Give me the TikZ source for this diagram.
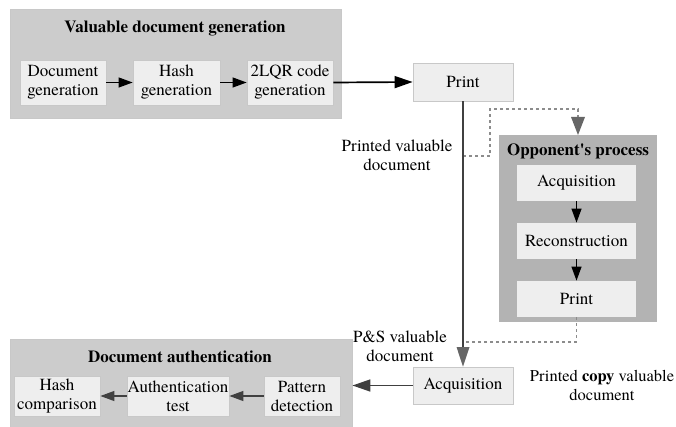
\documentclass[tikz,border=0pt]{standalone}
\usepackage{fontspec}
\setmainfont{texgyretermes}[Extension=.otf, UprightFont=*-regular, BoldFont=*-bold, ItalicFont=*-italic, BoldItalicFont=*-bolditalic]
\usetikzlibrary{arrows.meta,positioning}
\definecolor{clus}{HTML}{CCCCCC}
\definecolor{clusd}{HTML}{B3B3B3}
\definecolor{boxf}{HTML}{EEEEEE}
\definecolor{boxb}{HTML}{C8C8C8}
\definecolor{darkl}{HTML}{404040}
\definecolor{dotc}{HTML}{8C8C8C}
\definecolor{headc}{HTML}{666666}
\begin{document}
\begin{tikzpicture}[x=1pt,y=-1pt,
  txt/.style={font=\fontsize{17}{19}\selectfont, align=center, inner sep=0pt},
  ttl/.style={font=\fontsize{17}{19}\selectfont\bfseries, inner sep=0pt},
  stepbox/.style={txt, draw=boxb, fill=boxf, line width=0.8pt},
  arr/.style={-{Triangle[length=18pt,width=12pt]}, line width=1.7pt, black},
  sarr/.style={-{Triangle[length=14pt,width=10pt]}, line width=1.2pt, darkl},
  dotl/.style={dotc, line width=1.4pt, dash pattern=on 3pt off 3pt},
]
\useasboundingbox (0,0) rectangle (676,427);
% clusters
\node[draw=boxb, fill=clus, minimum width=331pt, minimum height=109pt, inner sep=0pt] (gen) at (175.5,63.5) {};
\node[ttl] (gent) at (175,28) {Valuable document generation};
\node[fill=clusd, minimum width=158pt, minimum height=187pt, inner sep=0pt] (opp) at (578,228.5) {};
\node[ttl] (oppt) at (578,151) {Opponent\textquotesingle s process};
\node[draw=boxb, fill=clus, minimum width=342pt, minimum height=92pt, inner sep=0pt, anchor=north west] (auth) at (10,339) {};
\node[ttl] (autht) at (180,357) {Document authentication};
% boxes
\node[stepbox, minimum width=86pt, minimum height=45pt] (docgen) at (63,82.5) {Document\\generation};
\node[stepbox, minimum width=87pt, minimum height=45pt] (hashgen) at (176.5,82.5) {Hash\\generation};
\node[stepbox, minimum width=86pt, minimum height=45pt] (qrgen) at (290,82.5) {2LQR code\\generation};
\node[stepbox, minimum width=100pt, minimum height=38pt] (print1) at (463,82) {Print};
\node[stepbox, minimum width=100pt, minimum height=37pt] (acq1) at (463,385.5) {Acquisition};
\node[stepbox, draw=none, minimum width=119pt, minimum height=36pt] (oacq) at (576.5,183) {Acquisition};
\node[stepbox, draw=none, minimum width=119pt, minimum height=36pt] (orec) at (576.5,241) {Reconstruction};
\node[stepbox, draw=none, minimum width=119pt, minimum height=36pt] (oprint) at (576.5,299) {Print};
\node[stepbox, minimum width=86pt, minimum height=40pt] (hashcmp) at (57,396) {Hash\\comparison};
\node[stepbox, minimum width=102pt, minimum height=40pt] (authtest) at (178,396) {Authentication\\test};
\node[stepbox, minimum width=76pt, minimum height=40pt] (pattern) at (302,396) {Pattern\\detection};
% labels
\node[txt] (l1) at (397,155.5) {Printed valuable\\document};
\node[txt] (l2) at (400,346) {P\&S valuable\\document};
\node[txt, font=\fontsize{16.5}{19}\selectfont] (l3) at (602,385) {Printed \textbf{copy} valuable\\document};
% connectors
\draw[sarr, black] (docgen) -- (hashgen);
\draw[sarr, black] (hashgen) -- (qrgen);
\draw[arr] (qrgen.east) -- (print1.west);
\coordinate (tap1) at (463,156);
\coordinate (d1) at (490,156);
\coordinate (d2) at (490,109);
\coordinate (d3) at (578,109);
\draw[dotl] (tap1) -- (d1) -- (d2) -- (d3) -- (578,118);
\fill[headc] (571,117) -- (585,117) -- (578,135) -- cycle;
\coordinate (tap2) at (463,342);
\coordinate (d4) at (576.5,342);
\draw[dotl] (oprint.south) -- (d4) -- (tap2);
\coordinate (hb) at (463,348);
\draw[line width=1.6pt, darkl] (print1.south) -- (hb);
\fill[headc] (456.5,347) -- (469.5,347) -- (acq1.north) -- cycle;
\draw[sarr, black] (oacq) -- (orec);
\draw[sarr, black] (orec) -- (oprint);
\coordinate (aedge) at (auth.east |- acq1.west);
\draw[arr, darkl] (acq1.west) -- (aedge);
\draw[sarr] (pattern) -- (authtest);
\draw[sarr] (authtest) -- (hashcmp);
\end{tikzpicture}
\end{document}
